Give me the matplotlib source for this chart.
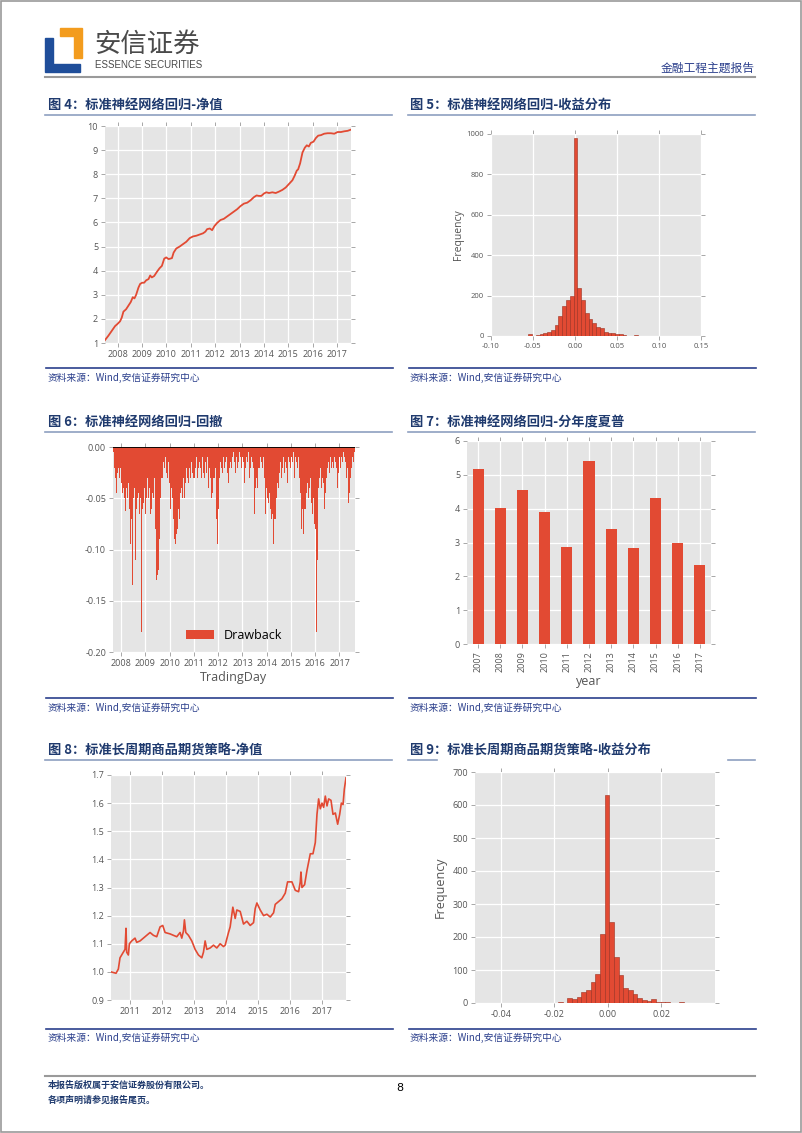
import numpy as np
import matplotlib
matplotlib.use("Agg")
import matplotlib.pyplot as plt
from matplotlib.patches import Rectangle, Polygon
from matplotlib.ticker import FormatStrFormatter

plt.rcParams['font.family'] = ['Open Sans', 'DejaVu Sans']
plt.rcParams['axes.unicode_minus'] = True

RED = '#E24A33'
BG = '#E5E5E5'
TICK = '#555555'
NAVY = '#1F3A6E'
BLUE = '#2B3F8C'
CJK = ['Noto Sans CJK SC', 'DejaVu Sans']

# 图4 净值 (fractional year, value)
nav_year = [2007.478, 2007.615, 2007.753, 2007.890, 2008.000, 2008.096, 2008.165, 2008.234,
            2008.344, 2008.440, 2008.536, 2008.618, 2008.687, 2008.756, 2008.852, 2008.921,
            2009.003, 2009.085, 2009.168, 2009.264, 2009.333, 2009.401, 2009.498, 2009.608,
            2009.717, 2009.814, 2009.910, 2009.992, 2010.088, 2010.226, 2010.295, 2010.404,
            2010.542, 2010.679, 2010.817, 2010.954, 2011.092, 2011.229, 2011.366, 2011.504,
            2011.600, 2011.669, 2011.779, 2011.875, 2011.971, 2012.081, 2012.218, 2012.356,
            2012.493, 2012.631, 2012.768, 2012.905, 2013.043, 2013.180, 2013.317, 2013.455,
            2013.592, 2013.702, 2013.798, 2013.894, 2014.004, 2014.101, 2014.210, 2014.348,
            2014.485, 2014.623, 2014.760, 2014.898, 2015.035, 2015.172, 2015.269, 2015.351,
            2015.406, 2015.488, 2015.585, 2015.681, 2015.763, 2015.846, 2015.928, 2016.038,
            2016.134, 2016.230, 2016.340, 2016.477, 2016.615, 2016.752, 2016.890, 2017.027,
            2017.165, 2017.302, 2017.440, 2017.577]
nav_val = [1.12, 1.3, 1.5, 1.7, 1.8, 1.9, 2.05, 2.3,
           2.4, 2.55, 2.7, 2.9, 2.85, 3.0, 3.3, 3.45,
           3.5, 3.5, 3.6, 3.65, 3.8, 3.72, 3.78, 3.95,
           4.1, 4.2, 4.5, 4.55, 4.48, 4.52, 4.75, 4.92,
           5.0, 5.1, 5.2, 5.35, 5.42, 5.45, 5.5, 5.55,
           5.62, 5.72, 5.75, 5.68, 5.85, 5.98, 6.1, 6.15,
           6.25, 6.35, 6.45, 6.55, 6.68, 6.78, 6.82, 6.92,
           7.05, 7.12, 7.1, 7.1, 7.2, 7.25, 7.22, 7.25,
           7.22, 7.28, 7.35, 7.45, 7.6, 7.75, 7.95, 8.15,
           8.2, 8.45, 8.9, 9.1, 9.2, 9.15, 9.3, 9.35,
           9.5, 9.6, 9.62, 9.68, 9.7, 9.7, 9.68, 9.75,
           9.75, 9.78, 9.8, 9.85]

# 图5 收益分布
h1_start = -0.0557
h1_width = 0.0045
h1_counts = [8, 0, 3, 8, 14, 20, 30, 55, 100, 148, 180, 200,
             980, 240, 180, 112, 85, 62, 45, 42, 22, 17, 14, 11, 8, 5, 2, 0, 3]

# 图6 回撤 (half-monthly readings)
dd_start = 2007.66
dd_step = 1 / 24
drawdown = [
    -0.005, -0.02, -0.03, -0.045, -0.025, -0.02, -0.03, -0.02, -0.035, -0.045,
    -0.04, -0.05, -0.062, -0.04, -0.05, -0.035, -0.06, -0.095, -0.07, -0.135,
    -0.05, -0.04, -0.11, -0.06, -0.05, -0.045, -0.065, -0.05, -0.18, -0.06,
    -0.055, -0.04, -0.065, -0.05, -0.03, -0.05, -0.04, -0.065, -0.06, -0.045,
    -0.05, -0.03, -0.08, -0.13, -0.125, -0.12, -0.09, -0.05, -0.03, -0.015,
    -0.02, -0.01, -0.025, -0.03, -0.015, -0.035, -0.06, -0.04, -0.05, -0.07,
    -0.09, -0.095, -0.085, -0.08, -0.06, -0.07, -0.045, -0.04, -0.05, -0.03,
    -0.05, -0.035, -0.02, -0.03, -0.035, -0.02, -0.03, -0.015, -0.025, -0.03,
    -0.03, -0.02, -0.01, -0.03, -0.02, -0.015, -0.02, -0.03, -0.01, -0.025,
    -0.03, -0.015, -0.025, -0.01, -0.04, -0.02, -0.03, -0.05, -0.045, -0.03,
    -0.03, -0.02, -0.07, -0.095, -0.06, -0.03, -0.015, -0.02, -0.025, -0.01,
    -0.02, -0.015, -0.01, -0.025, -0.035, -0.02, -0.015, -0.02, -0.01, -0.005,
    -0.015, -0.025, -0.01, -0.02, -0.015, -0.005, -0.01, -0.02, -0.01, -0.015,
    -0.035, -0.02, -0.01, -0.015, -0.005, -0.03, -0.02, -0.01, -0.015, -0.02,
    -0.065, -0.04, -0.03, -0.04, -0.02, -0.01, -0.015, -0.02, -0.01, -0.03,
    -0.065, -0.04, -0.05, -0.055, -0.045, -0.06, -0.07, -0.065, -0.095, -0.07,
    -0.07, -0.05, -0.035, -0.04, -0.025, -0.015, -0.03, -0.02, -0.01, -0.025,
    -0.015, -0.02, -0.035, -0.01, -0.015, -0.02, -0.01, -0.015, -0.005, -0.03,
    -0.01, -0.015, -0.02, -0.01, -0.03, -0.045, -0.08, -0.06, -0.085, -0.06,
    -0.06, -0.045, -0.035, -0.05, -0.04, -0.03, -0.055, -0.065, -0.05, -0.075,
    -0.08, -0.18, -0.11, -0.04, -0.03, -0.02, -0.04, -0.03, -0.035, -0.06,
    -0.045, -0.03, -0.02, -0.015, -0.025, -0.01, -0.02, -0.015, -0.02, -0.01,
    -0.015, -0.02, -0.04, -0.025, -0.01, -0.02, -0.01, -0.015, -0.005, -0.01,
    -0.015, -0.03, -0.02, -0.055, -0.045, -0.03, -0.02, -0.01, -0.015, -0.005]

# 图7 分年度夏普
years = ['2007', '2008', '2009', '2010', '2011', '2012', '2013', '2014', '2015', '2016', '2017']
sharpe = [5.17, 4.01, 4.55, 3.89, 2.88, 5.42, 3.39, 2.84, 4.31, 2.98, 2.34]

# 图8 商品期货净值
cf_year = [2010.394, 2010.551, 2010.624, 2010.676, 2010.728, 2010.780, 2010.833, 2010.864,
           2010.885, 2010.937, 2010.969, 2011.042, 2011.146, 2011.199, 2011.303, 2011.408,
           2011.512, 2011.617, 2011.721, 2011.826, 2011.930, 2012.014, 2012.087, 2012.244,
           2012.348, 2012.453, 2012.557, 2012.610, 2012.662, 2012.693, 2012.735, 2012.819,
           2012.923, 2013.028, 2013.132, 2013.237, 2013.289, 2013.341, 2013.394, 2013.498,
           2013.603, 2013.707, 2013.812, 2013.916, 2013.969, 2014.073, 2014.125, 2014.209,
           2014.282, 2014.334, 2014.439, 2014.543, 2014.648, 2014.752, 2014.857, 2014.909,
           2014.962, 2015.066, 2015.171, 2015.275, 2015.380, 2015.484, 2015.536, 2015.641,
           2015.745, 2015.850, 2015.923, 2016.059, 2016.164, 2016.268, 2016.320, 2016.341,
           2016.373, 2016.456, 2016.529, 2016.634, 2016.718, 2016.791, 2016.843, 2016.895,
           2016.948, 2017.000, 2017.052, 2017.104, 2017.157, 2017.209, 2017.282, 2017.345,
           2017.418, 2017.491, 2017.554, 2017.606, 2017.659, 2017.700, 2017.752]
cf_val = [1.0, 0.995, 1.01, 1.05, 1.06, 1.07, 1.08, 1.155,
          1.07, 1.06, 1.1, 1.11, 1.12, 1.105, 1.11, 1.12,
          1.13, 1.14, 1.13, 1.125, 1.16, 1.165, 1.14, 1.135,
          1.13, 1.125, 1.14, 1.12, 1.145, 1.185, 1.14, 1.13,
          1.11, 1.08, 1.06, 1.05, 1.07, 1.11, 1.08, 1.085,
          1.095, 1.085, 1.1, 1.09, 1.095, 1.14, 1.16, 1.23,
          1.19, 1.22, 1.215, 1.17, 1.18, 1.165, 1.175, 1.225,
          1.245, 1.22, 1.2, 1.205, 1.195, 1.21, 1.24, 1.25,
          1.26, 1.28, 1.32, 1.32, 1.29, 1.285, 1.32, 1.355,
          1.3, 1.31, 1.36, 1.42, 1.42, 1.46, 1.56, 1.615,
          1.58, 1.6, 1.585, 1.625, 1.59, 1.615, 1.61, 1.56,
          1.565, 1.525, 1.56, 1.6, 1.595, 1.65, 1.69]

# 图9 收益分布
h2_start = -0.0186
h2_width = 0.00175
h2_counts = [3, 0, 15, 12, 18, 32, 40, 65, 88, 209, 630, 245, 138, 84, 44, 40,
             28, 15, 8, 5, 11, 4, 3, 2, 0, 0, 3]

W, H = 802, 1133
fig = plt.figure(figsize=(W / 100, H / 100), dpi=100)


def box(l, t, r, b):
    return fig.add_axes([l / W, 1 - b / H, (r - l) / W, (b - t) / H])


def ftext(x, y, s, **kw):
    fig.text(x / W, 1 - y / H, s, **kw)


def hline(x0, x1, y, color, lw):
    fig.add_artist(plt.Line2D([x0 / W, x1 / W], [1 - y / H, 1 - y / H], color=color, lw=lw))


def gg(ax, size=6.5):
    ax.set_facecolor(BG)
    ax.grid(True, color='white', lw=0.9)
    ax.set_axisbelow(True)
    for s in ax.spines.values():
        s.set_visible(False)
    ax.tick_params(direction='out', top=True, right=True, length=3, width=0.6,
                   color='#999999', labelcolor=TICK, labelsize=size, pad=2)


# page frame and header
fig.add_artist(Rectangle((0.001, 0.001), 0.998, 0.998, transform=fig.transFigure,
                         fill=False, edgecolor='#9a9a9a', lw=1.2))
fig.add_artist(Polygon([[60 / W, 1 - 28 / H], [82 / W, 1 - 28 / H], [82 / W, 1 - 58 / H],
                        [74 / W, 1 - 58 / H], [74 / W, 1 - 36 / H], [60 / W, 1 - 36 / H]],
                       closed=True, transform=fig.transFigure, color='#F39C1E'))
fig.add_artist(Polygon([[45 / W, 1 - 38 / H], [53 / W, 1 - 38 / H], [53 / W, 1 - 64 / H],
                        [80 / W, 1 - 64 / H], [80 / W, 1 - 72 / H], [45 / W, 1 - 72 / H]],
                       closed=True, transform=fig.transFigure, color='#1F4E9A'))
ftext(94, 44, '安信证券', family=CJK, fontsize=19, color='#4a4a4a', va='center')
ftext(95, 65, 'ESSENCE SECURITIES', fontsize=7, color='#4a4a4a', va='center',
      family=['Liberation Sans', 'DejaVu Sans'])
ftext(755, 68, '金融工程主题报告', family=CJK, fontsize=8.5, color=BLUE, va='center', ha='right')
hline(45, 755, 77, '#9a9a9a', 1.5)

# titles, underlines and sources
titles = [(48, 105, '图 4：标准神经网络回归-净值'), (410, 105, '图 5：标准神经网络回归-收益分布'),
          (48, 422, '图 6：标准神经网络回归-回撤'), (410, 422, '图 7：标准神经网络回归-分年度夏普'),
          (48, 751, '图 8：标准长周期商品期货策略-净值'), (410, 751, '图 9：标准长周期商品期货策略-收益分布')]
for x, y, s in titles:
    ftext(x, y, s, family=CJK, fontsize=9.5, fontweight='bold', color=NAVY, va='center')

for y in (115, 432):
    hline(45, 392, y, '#8EA0C0', 1.2)
    hline(408, 755, y, '#8EA0C0', 1.2)
hline(45, 392, 760, '#8EA0C0', 1.2)
hline(408, 437, 760, '#8EA0C0', 1.2)
hline(728, 755, 760, '#8EA0C0', 1.2)

for ly, ty in ((368, 378), (698, 708), (1029, 1038)):
    hline(46, 393, ly, BLUE, 1.2)
    hline(409, 756, ly, BLUE, 1.2)
    ftext(48, ty, '资料来源：Wind,安信证券研究中心', family=CJK, fontsize=7, color=BLUE, va='center')
    ftext(410, ty, '资料来源：Wind,安信证券研究中心', family=CJK, fontsize=7, color=BLUE, va='center')

# footer
hline(45, 755, 1076, '#9a9a9a', 1.5)
ftext(48, 1085, '本报告版权属于安信证券股份有限公司。', family=CJK, fontsize=6.5, fontweight='bold',
      color=NAVY, va='center')
ftext(48, 1100, '各项声明请参见报告尾页。', family=CJK, fontsize=6.5, fontweight='bold',
      color=NAVY, va='center')
ftext(400, 1088, '8', fontsize=8, color='black', va='center', ha='center', family='DejaVu Sans')

yr_ticks = list(range(2008, 2018))

# 图4
ax1 = box(105, 126, 351, 343)
gg(ax1)
ax1.plot(nav_year, nav_val, color=RED, lw=1.3)
ax1.set_xlim(nav_year[0], nav_year[-1])
ax1.set_ylim(1, 10)
ax1.set_yticks(range(1, 11))
ax1.set_xticks(yr_ticks)
ax1.set_xticklabels([str(y) for y in yr_ticks])

# 图5
ax2 = box(491, 134, 701, 336)
gg(ax2, 5.5)
edges1 = h1_start + h1_width * np.arange(len(h1_counts))
ax2.bar(edges1, h1_counts, width=h1_width, align='edge', color=RED, edgecolor='#9c2f1f', lw=0.4)
ax2.set_xlim(-0.10, 0.15)
ax2.set_ylim(0, 1000)
ax2.set_xticks([-0.10, -0.05, 0.0, 0.05, 0.10, 0.15])
ax2.xaxis.set_major_formatter(FormatStrFormatter('%.2f'))
ax2.set_yticks(range(0, 1001, 200))
ax2.set_ylabel('Frequency', fontsize=7.5, color=TICK, labelpad=2)

# 图6
ax3 = box(113, 447, 355, 652)
gg(ax3)
dd_x = dd_start + dd_step * np.arange(len(drawdown))
ax3.bar(dd_x, drawdown, width=dd_step, align='edge', color=RED, lw=0, label='Drawback')
ax3.axhline(0, color='black', lw=1.3)
ax3.set_xlim(2007.66, 2017.64)
ax3.set_ylim(-0.20, 0.0)
ax3.set_yticks([-0.20, -0.15, -0.10, -0.05, 0.0])
ax3.yaxis.set_major_formatter(FormatStrFormatter('%.2f'))
ax3.set_xticks(yr_ticks)
ax3.set_xticklabels([str(y) for y in yr_ticks])
ax3.set_xlabel('TradingDay', fontsize=9, color=TICK, labelpad=2)
ax3.legend(loc='center', bbox_to_anchor=(0.5, 0.08), frameon=False, fontsize=9,
           handlelength=2.2)

# 图7
ax4 = box(467, 441, 711, 644)
gg(ax4)
pos = np.arange(len(years))
ax4.bar(pos, sharpe, width=0.5, color=RED, lw=0)
ax4.set_xlim(-0.5, len(years) - 0.5)
ax4.set_ylim(0, 6)
ax4.set_xticks(pos)
ax4.set_xticklabels(years, rotation=90)
ax4.set_xlabel('year', fontsize=9, color=TICK, labelpad=2)

# 图8
ax5 = box(111, 775, 346, 1000)
gg(ax5)
ax5.plot(cf_year, cf_val, color=RED, lw=1.2)
ax5.set_xlim(cf_year[0], cf_year[-1])
ax5.set_ylim(0.9, 1.7)
ax5.set_yticks([0.9, 1.0, 1.1, 1.2, 1.3, 1.4, 1.5, 1.6, 1.7])
ax5.yaxis.set_major_formatter(FormatStrFormatter('%.1f'))
cf_ticks = list(range(2011, 2018))
ax5.set_xticks(cf_ticks)
ax5.set_xticklabels([str(y) for y in cf_ticks])

# 图9
ax6 = box(475, 772, 715, 1003)
gg(ax6)
edges2 = h2_start + h2_width * np.arange(len(h2_counts))
ax6.bar(edges2, h2_counts, width=h2_width, align='edge', color=RED, edgecolor='#9c2f1f', lw=0.4)
ax6.set_xlim(-0.0496, 0.0402)
ax6.set_ylim(0, 700)
ax6.set_xticks([-0.04, -0.02, 0.0, 0.02])
ax6.xaxis.set_major_formatter(FormatStrFormatter('%.2f'))
ax6.set_yticks(range(0, 701, 100))
ax6.set_ylabel('Frequency', fontsize=9, color=TICK, labelpad=4)

fig.savefig('out.png', dpi=100)
